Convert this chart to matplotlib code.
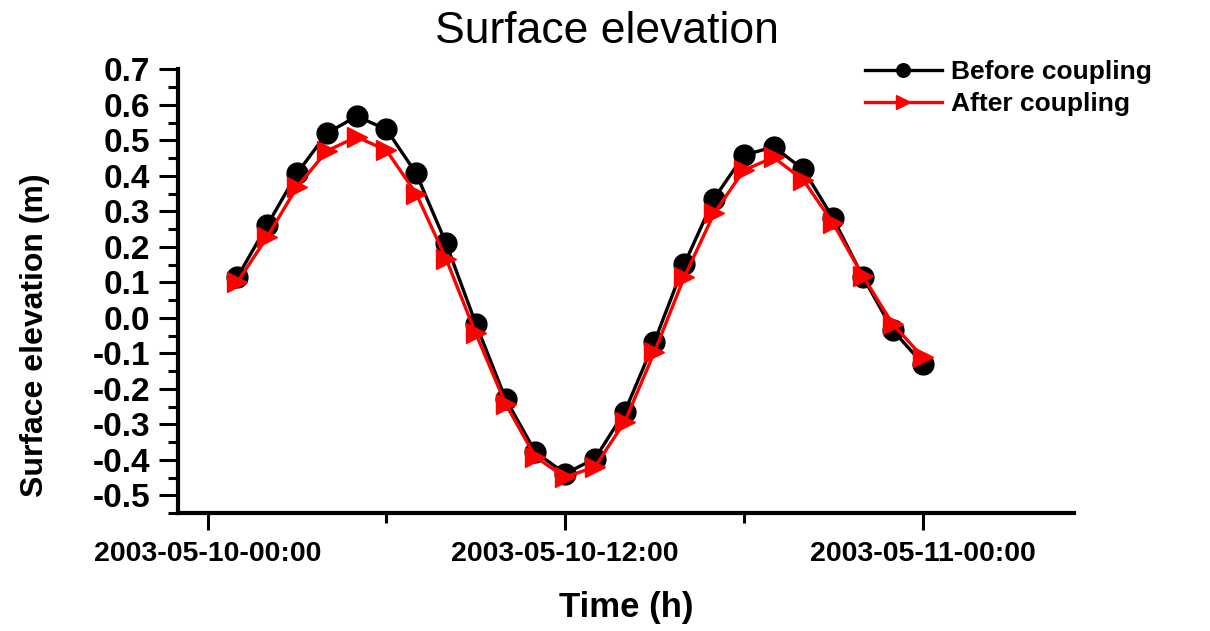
import matplotlib
matplotlib.use("Agg")
import matplotlib.pyplot as plt
from matplotlib.ticker import MultipleLocator, FixedLocator

hours = list(range(1, 25))
before = [0.115, 0.261, 0.407, 0.520, 0.568, 0.531, 0.407, 0.211, -0.016, -0.228,
          -0.378, -0.439, -0.397, -0.265, -0.067, 0.151, 0.336, 0.458, 0.482, 0.418,
          0.280, 0.115, -0.035, -0.129]
after = [0.101, 0.228, 0.369, 0.470, 0.510, 0.472, 0.350, 0.167, -0.044, -0.242,
         -0.392, -0.449, -0.420, -0.293, -0.096, 0.115, 0.294, 0.416, 0.452, 0.388,
         0.266, 0.117, -0.018, -0.110]
xtick_pos = [0, 12, 24]
xtick_labels = ["2003-05-10-00:00", "2003-05-10-12:00", "2003-05-11-00:00"]
yticks = [0.7, 0.6, 0.5, 0.4, 0.3, 0.2, 0.1, 0.0, -0.1, -0.2, -0.3, -0.4, -0.5]

plt.rcParams['font.family'] = ['Liberation Sans', 'DejaVu Sans']

fig = plt.figure(figsize=(12.10, 6.31), dpi=100)
ax = fig.add_axes([0.147, 0.187, 0.741, 0.703])

ax.plot(hours, before, color='black', lw=2.4, marker='o', ms=15,
        label='Before coupling', zorder=3)
ax.plot(hours, after, color='red', lw=2.4, marker='>', ms=15,
        label='After coupling', zorder=4)

ax.set_xlim(-1, 29.1)
ax.set_ylim(-0.55, 0.7)

for s in ['top', 'right']:
    ax.spines[s].set_visible(False)
for s in ['left', 'bottom']:
    ax.spines[s].set_linewidth(3)

ax.set_yticks(yticks)
ax.set_yticklabels([f"{v:.1f}" for v in yticks], fontsize=24, fontweight='bold')
ax.yaxis.set_minor_locator(MultipleLocator(0.05))
ax.set_xticks(xtick_pos)
ax.set_xticklabels(xtick_labels, fontsize=20.5, fontweight='bold')
ax.xaxis.set_minor_locator(FixedLocator([6, 18]))

ax.tick_params(axis='y', which='major', direction='out', length=14, width=2.2, pad=6)
ax.tick_params(axis='y', which='minor', direction='out', length=7, width=2.2)
ax.tick_params(axis='x', which='major', direction='out', length=12, width=2.2, pad=8)
ax.tick_params(axis='x', which='minor', direction='out', length=7, width=2.2)

ax.set_xlabel('Time (h)', fontsize=25, fontweight='bold')
ax.xaxis.set_label_coords(0.5, -0.175)
ax.set_ylabel('Surface elevation (m)', fontsize=23, fontweight='bold')
ax.yaxis.set_label_coords(-0.143, 0.40)
fig.text(0.502, 0.950, 'Surface elevation', ha='center', va='center', fontsize=32)

leg = ax.legend(loc='upper left', bbox_to_anchor=(0.715, 0.905),
                bbox_transform=fig.transFigure, frameon=False,
                prop={'weight': 'bold', 'size': 19}, markerscale=0.65,
                handlelength=2.9, handletextpad=0.35, labelspacing=0.3,
                borderpad=0, borderaxespad=0)

fig.savefig('out.png', dpi=100)
